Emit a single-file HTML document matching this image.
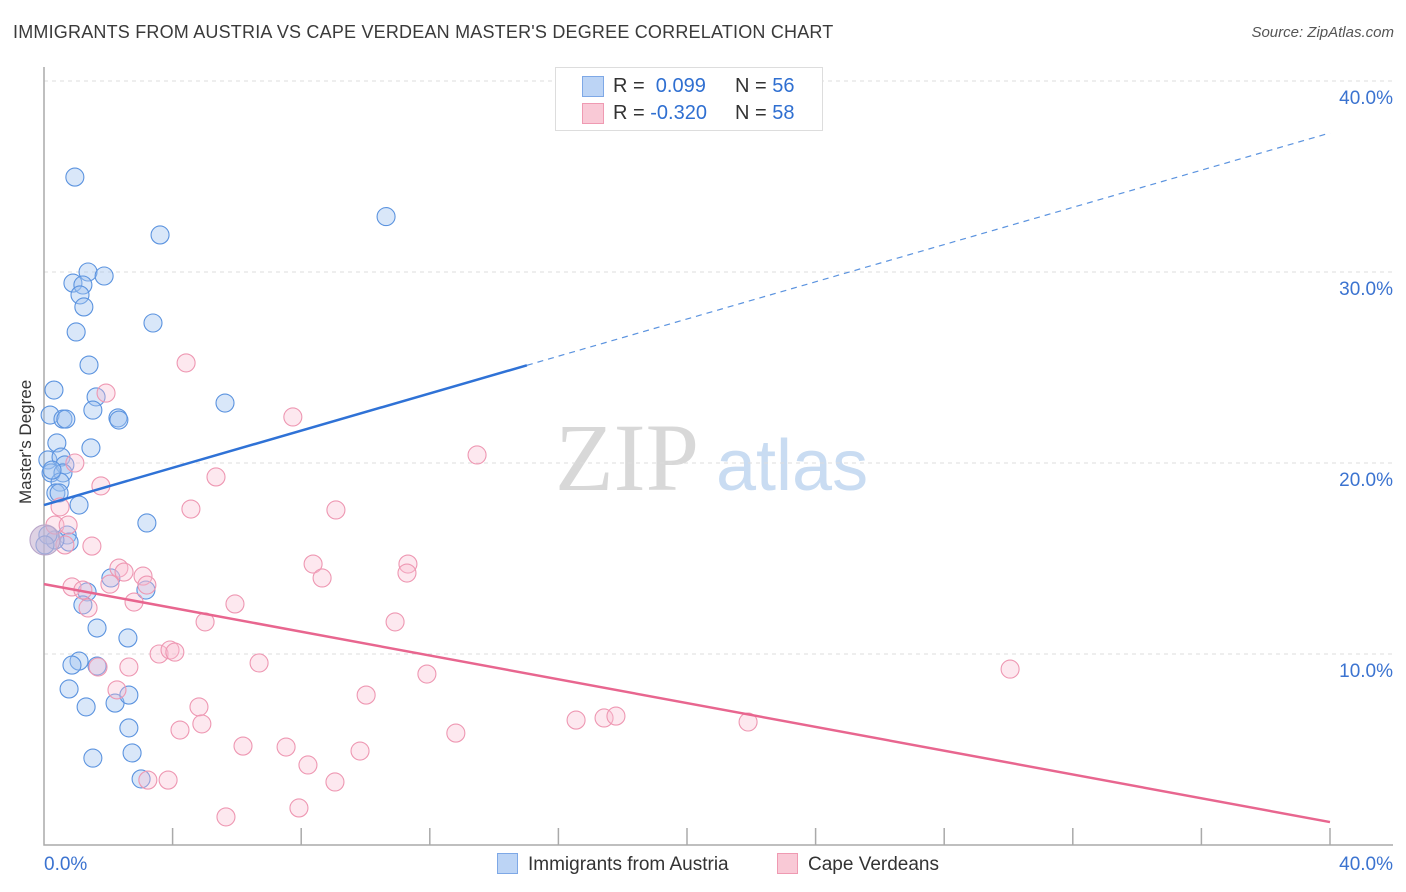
<!DOCTYPE html>
<html><head><meta charset="utf-8"><style>
body{margin:0;background:#fff;font-family:"Liberation Sans",sans-serif;}
#wrap{position:relative;width:1406px;height:892px;overflow:hidden;}
.t{position:absolute;white-space:nowrap;}
</style></head><body>
<div id="wrap">
<div class="t" style="left:13px;top:22px;font-size:18px;color:#3a3a3a;letter-spacing:0.2px;">IMMIGRANTS FROM AUSTRIA VS CAPE VERDEAN MASTER'S DEGREE CORRELATION CHART</div>
<div class="t" style="right:12px;top:24px;font-size:15px;color:#555;font-style:italic;">Source: ZipAtlas.com</div>
<div class="t" style="left:-24px;top:444px;font-size:17px;color:#333;transform:rotate(-90deg);transform-origin:center;width:100px;text-align:center;">Master's Degree</div>
<svg id="svg" width="1406" height="892" style="position:absolute;left:0;top:0">
<text x="555" y="490" font-family="Liberation Serif,serif" font-size="96" fill="#d8d8d8">ZIP</text>
<text x="716" y="490" font-family="Liberation Sans,sans-serif" font-size="72" fill="#c9dcf2">atlas</text>
<g id="grid"></g><g id="pts"></g><g id="lines"></g>
</svg>
<div style="position:absolute;left:555px;top:67px;width:266px;height:62px;border:1px solid #ddd;background:#fff;font-size:20px;">
<div style="position:absolute;left:26px;top:8px;width:20px;height:19px;background:#bcd4f5;border:1px solid #7ea8e6;"></div>
<div class="t" style="left:57px;top:7px;color:#333;">R = &nbsp;<span style="color:#2f6fd1">0.099</span></div>
<div class="t" style="left:179px;top:7px;color:#333;">N = <span style="color:#2f6fd1">56</span></div>
<div style="position:absolute;left:26px;top:35px;width:20px;height:19px;background:#f9c9d6;border:1px solid #ef9ab2;"></div>
<div class="t" style="left:57px;top:34px;color:#333;">R = <span style="color:#2f6fd1">-0.320</span></div>
<div class="t" style="left:179px;top:34px;color:#333;">N = <span style="color:#2f6fd1">58</span></div>
</div>
<div style="position:absolute;left:497px;top:853px;font-size:19px;color:#333;"><span style="display:inline-block;width:19px;height:19px;background:#bcd4f5;border:1px solid #7ea8e6;vertical-align:-4px;margin-right:10px;"></span>Immigrants from Austria</div>
<div style="position:absolute;left:777px;top:853px;font-size:19px;color:#333;"><span style="display:inline-block;width:19px;height:19px;background:#f9c9d6;border:1px solid #ef9ab2;vertical-align:-4px;margin-right:10px;"></span>Cape Verdeans</div>
</div>
<script>
const blueX=[0.96,10.64,3.61,1.37,0.90,1.87,1.21,1.12,1.24,3.39,1.0,1.40,5.63,0.31,1.62,0.19,1.52,0.59,0.68,2.30,2.33,0.40,1.46,0.12,0.53,0.22,0.65,0.59,0.50,0.37,0.47,1.09,3.20,0.72,0.78,0.34,2.08,3.17,1.34,1.21,1.65,2.61,1.09,0.87,1.65,0.78,1.31,2.21,2.64,2.64,2.74,1.52,3.02,0.12,0.03,0.25];
const blueY=[34.97,32.9,31.94,30.0,29.42,29.79,29.32,28.8,28.17,27.33,26.86,25.13,23.14,23.82,23.46,22.51,22.77,22.3,22.3,22.36,22.25,21.05,20.79,20.16,20.31,19.48,19.9,19.48,19.0,18.43,18.43,17.8,16.86,16.23,15.86,15.97,13.98,13.35,13.25,12.57,11.36,10.84,9.63,9.42,9.37,8.17,7.23,7.43,7.85,6.13,4.82,4.55,3.46,16.23,15.71,19.63];
const pinkX=[4.42,1.93,7.74,13.47,0.96,1.77,5.35,4.57,9.08,0.50,0.34,0.75,0.65,1.49,8.37,11.32,8.65,11.29,2.33,2.49,3.08,3.20,2.05,0.87,1.21,1.37,2.80,5.94,5.01,10.92,3.58,3.92,4.07,2.64,1.68,6.69,11.91,30.05,2.27,10.02,4.82,16.55,17.42,17.79,21.90,4.23,4.91,6.19,7.53,12.81,9.83,8.21,9.05,3.86,3.23,7.93,5.66,0.03];
const pinkY=[25.24,23.66,22.41,20.42,20.0,18.8,19.27,17.59,17.54,17.7,16.75,16.75,15.71,15.65,14.71,14.71,13.98,14.24,14.5,14.29,14.08,13.61,13.66,13.51,13.35,12.41,12.72,12.62,11.68,11.68,10.0,10.21,10.1,9.32,9.32,9.53,8.95,9.21,8.12,7.85,7.23,6.54,6.65,6.75,6.44,6.02,6.34,5.18,5.13,5.86,4.92,4.19,3.30,3.40,3.40,1.94,1.47,15.97];
const yTicks=[10,20,30,40];
const yTickLabels=["10.0%","20.0%","30.0%","40.0%"];
const xTickVals=[4,8,12,16,20,24,28,32,36,40];
const blueTrend=[17.8,37.28]; const blueSolidEnd=15.02;
const pinkTrend=[13.66,1.2];
const X=v=>44+v*32.15, Y=v=>845-v*19.1;
const NS="http://www.w3.org/2000/svg";
function mk(tag,attrs,parent){const e=document.createElementNS(NS,tag);for(const k in attrs)e.setAttribute(k,attrs[k]);parent.appendChild(e);return e;}
const grid=document.getElementById('grid'),pts=document.getElementById('pts'),lines=document.getElementById('lines');
yTicks.forEach((t,i)=>{
 const l=mk('line',{x1:44,x2:1393,y1:Y(t),y2:Y(t),stroke:'#ddd','stroke-dasharray':'4,4'},grid);
 
 
 const tx=mk('text',{x:1393,y:Y(t)+23,'text-anchor':'end','font-size':19,fill:'#3b73d0','font-family':'Liberation Sans,sans-serif'},grid);
 tx.textContent=yTickLabels[i];
 
 
});
const ax=mk('path',{d:'M44 67 V845 H1393',stroke:'#aaa',fill:'none','stroke-width':1.5},grid);


xTickVals.forEach(v=>{const l=mk('line',{x1:X(v),x2:X(v),y1:828,y2:845,stroke:'#aaa','stroke-width':1.5},grid);
 
 });
[[0,'0.0%','start',44],[40,'40.0%','end',1393]].forEach(a=>{const t=mk('text',{x:a[3],y:870,'text-anchor':a[2],'font-size':19,fill:'#3b73d0','font-family':'Liberation Sans,sans-serif'},grid);t.textContent=a[1];
 
 });
blueX.forEach((x,i)=>{const c=mk('circle',{cx:X(x),cy:Y(blueY[i]),r:9,fill:'rgba(160,195,240,0.4)',stroke:'#5b93df','stroke-width':1.1},pts);
 
 });
pinkX.forEach((x,i)=>{const big=i===pinkX.length-1;const c=mk('circle',{cx:X(x),cy:Y(pinkY[i]),r:big?15:9,fill:big?'rgba(200,180,210,0.6)':'rgba(248,190,208,0.35)',stroke:big?'#b9a6c9':'#ee97b2','stroke-width':1.1},pts);
 
 });
const bs=(blueTrend[1]-blueTrend[0])/40;
const b1=mk('line',{x1:X(0),y1:Y(blueTrend[0]),x2:X(blueSolidEnd),y2:Y(blueTrend[0]+bs*blueSolidEnd),stroke:'#2f72d6','stroke-width':2.5},lines);


const b2=mk('line',{x1:X(blueSolidEnd),y1:Y(blueTrend[0]+bs*blueSolidEnd),x2:X(40),y2:Y(blueTrend[1]),stroke:'#5b93df','stroke-width':1.2,'stroke-dasharray':'6,5'},lines);


const p1=mk('line',{x1:X(0),y1:Y(pinkTrend[0]),x2:X(40),y2:Y(pinkTrend[1]),stroke:'#e8668f','stroke-width':2.5},lines);


</script>
</body></html>
